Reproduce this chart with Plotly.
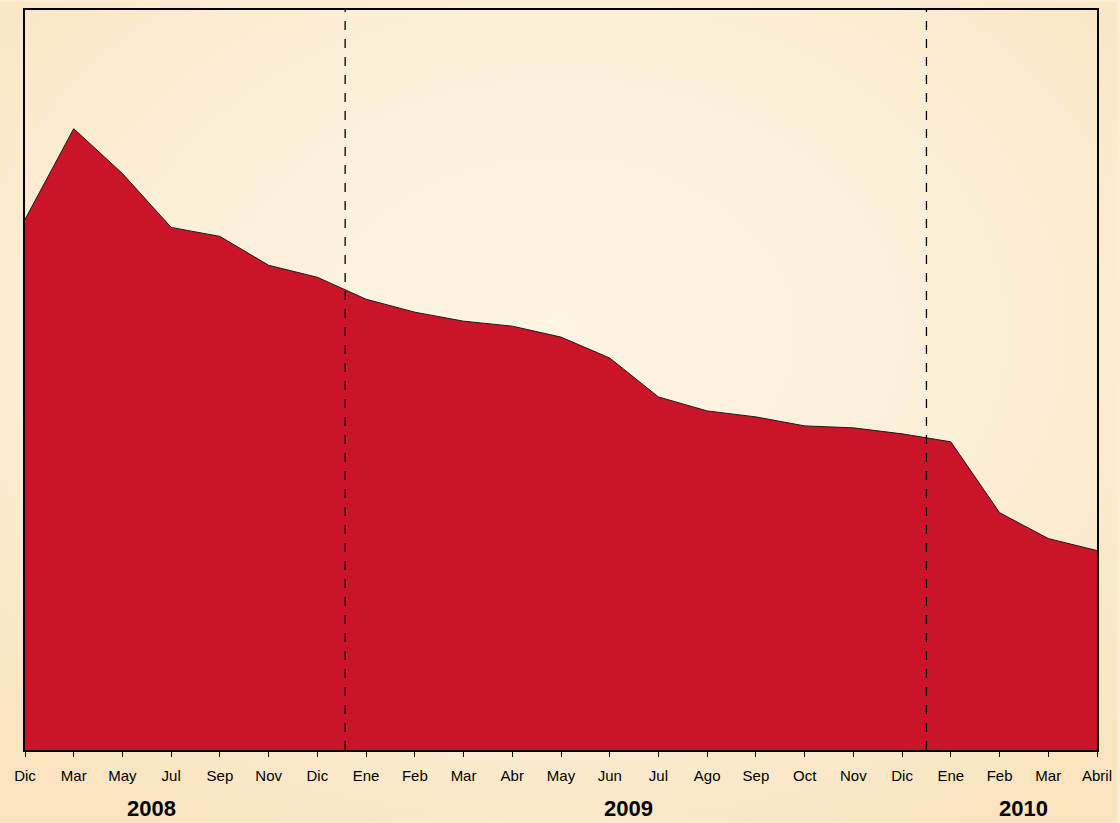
import base64
import plotly.graph_objects as go

months = ["Dic", "Mar", "May", "Jul", "Sep", "Nov", "Dic", "Ene", "Feb", "Mar", "Abr", "May",
          "Jun", "Jul", "Ago", "Sep", "Oct", "Nov", "Dic", "Ene", "Feb", "Mar", "Abril"]
values = [532, 623, 578, 524, 515, 486, 474, 452, 439, 430, 425, 414,
          393, 354, 340, 334, 325, 323, 317, 309, 238, 212, 200]
years = ["2008", "2009", "2010"]
year_pos = [2.6, 12.38, 20.5]
year_breaks = [6.57, 18.5]

x = list(range(len(months)))

svg = """<svg xmlns='http://www.w3.org/2000/svg' width='1120' height='823'>
<defs><radialGradient id='g' cx='50%' cy='40%' r='70%'>
<stop offset='0%' stop-color='#fdf4e3'/><stop offset='55%' stop-color='#fcefd8'/>
<stop offset='100%' stop-color='#fae4c0'/></radialGradient></defs>
<rect width='1120' height='823' fill='url(#g)'/></svg>"""
uri = "data:image/svg+xml;base64," + base64.b64encode(svg.encode()).decode()

fig = go.Figure()
fig.add_trace(go.Scatter(
    x=x, y=values, mode="lines", fill="tozeroy",
    fillcolor="#cc1428", line=dict(color="#1a1a1a", width=1),
    hoverinfo="skip", showlegend=False))

for b in year_breaks:
    fig.add_shape(type="line", x0=b, x1=b, y0=0, y1=1, xref="x", yref="paper",
                  line=dict(color="black", width=1.3, dash="dash"))

for t, p in zip(years, year_pos):
    fig.add_annotation(x=p, y=0, xref="x", yref="paper", text=t, showarrow=False,
                       yanchor="middle", yshift=-58,
                       font=dict(family="Liberation Sans, Arial", size=22, color="black", weight="bold"))

fig.add_layout_image(dict(source=uri, xref="paper", yref="paper", x=-25/1075, y=1 + 8/742,
                          sizex=1120/1075, sizey=823/742, xanchor="left", yanchor="top",
                          sizing="stretch", layer="below"))

fig.update_layout(
    width=1120, height=823,
    margin=dict(l=25, r=20, t=8, b=73),
    paper_bgcolor="#fcecd2", plot_bgcolor="rgba(0,0,0,0)",
    xaxis=dict(range=[0, len(months) - 1], tickmode="array", tickvals=x, ticktext=months,
               ticks="outside", ticklen=5, tickcolor="black", tickwidth=1,
               showgrid=False, zeroline=False, showline=True, linecolor="black", linewidth=1.5,
               mirror=True, tickfont=dict(family="Liberation Sans, Arial", size=15, color="black"),
               ticklabelstandoff=6),
    yaxis=dict(range=[0, 742], showticklabels=False, showgrid=False, zeroline=False,
               showline=True, linecolor="black", linewidth=1.5, mirror=True, ticks=""),
)

fig.write_html("out.html", config={"displayModeBar": False},
               post_script="document.body.style.margin='0';document.body.style.overflow='hidden';")
